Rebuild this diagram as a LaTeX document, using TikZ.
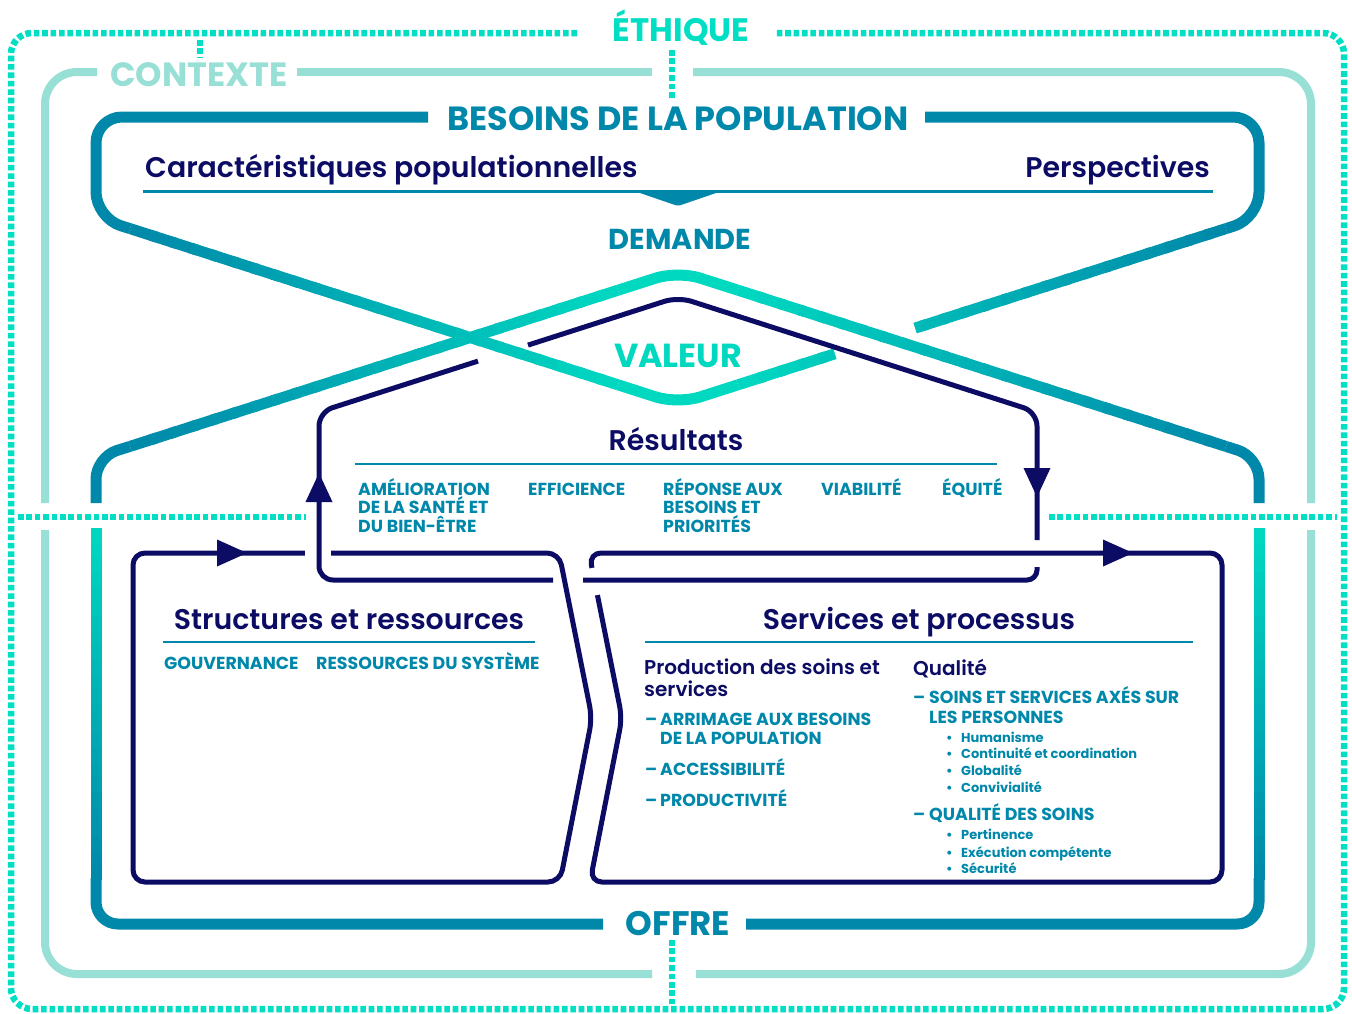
\documentclass[tikz,border=0pt]{standalone}
\usepackage{fontspec}
\setmainfont{Poppins}
\newfontfamily\psemi{Poppins SemiBold}
\newfontfamily\pmed{Poppins Medium}
\usetikzlibrary{calc}
\definecolor{navy}{RGB}{12,12,100}
\definecolor{pblue}{RGB}{0,136,170}
\definecolor{turq}{RGB}{0,216,192}
\definecolor{ethq}{RGB}{0,222,196}
\definecolor{ctx}{RGB}{152,223,214}
\newcommand\gradseg[6]{%
  \foreach \k in {0,...,23}{%
    \pgfmathsetmacro\ua{\k/24}%
    \pgfmathsetmacro\ub{min((\k+1.3)/24,1)}%
    \pgfmathsetmacro\pc{100-(\k+0.5)*100/24}%
    \draw[line width=11pt, color=#5!\pc!#6] ({#1+(#3-#1)*\ua},{#2+(#4-#2)*\ua}) -- ({#1+(#3-#1)*\ub},{#2+(#4-#2)*\ub});
  }}
\begin{document}
\begin{tikzpicture}[x=1pt,y=-1pt,line cap=butt,
  dotl/.style={ethq, line width=6.5pt, dash pattern=on 5.6pt off 2.8pt},
  ctxl/.style={ctx, line width=8pt},
  bll/.style={pblue, line width=11pt},
  nvl/.style={navy, line width=5pt},
  gap/.style={white, line width=8pt},
  tx/.style={inner sep=0pt, anchor=base west},
  big/.style={inner sep=0pt, anchor=base, font=\normalfont\bfseries\fontsize{#1pt}{#1pt}\selectfont},
  hd/.style={inner sep=0pt, text=navy, font=\psemi\fontsize{28.4pt}{30pt}\selectfont},
  it/.style={tx, text=pblue, font=\normalfont\bfseries\fontsize{17.4pt}{18pt}\selectfont},
  sm/.style={tx, text=pblue, font=\normalfont\bfseries\fontsize{13pt}{14pt}\selectfont},
  sub/.style={tx, text=navy, font=\psemi\fontsize{20pt}{22pt}\selectfont}]
\useasboundingbox (0,0) rectangle (1352,1013);
\fill[white] (0,0) rectangle (1352,1013);

% ethique frame
\draw[dotl, rounded corners=21pt] (577,33) -- (11,33) -- (11,1009) -- (1344,1009) -- (1344,33) -- (776,33);
\draw[dotl] (200,40) -- (200,58);
\draw[dotl] (672,50) -- (672,99);
\draw[dotl] (672,940) -- (672,1004);
\draw[dotl] (18,517) -- (306,517);
\draw[dotl] (1049,517) -- (1337,517);

% contexte frame
\draw[ctxl] (297,72) -- (652,72);
\draw[ctxl, rounded corners=32pt] (693,72) -- (1311,72) -- (1311,503);
\draw[ctxl, rounded corners=32pt] (1311,530) -- (1311,974) -- (696,974);
\draw[ctxl, rounded corners=32pt] (652,974) -- (45,974) -- (45,530);
\draw[ctxl, rounded corners=32pt] (45,503) -- (45,72) -- (97,72);

% besoins frame and V
\draw[bll, rounded corners=26pt] (428,117) -- (96,117) -- (96,218) -- (130,228.6);
\gradseg{130}{228.6}{618}{384.8}{pblue}{turq}
\draw[bll, turq, rounded corners=23pt] (618,384.8) -- (678,404) -- (738,384.8);
\gradseg{738}{384.8}{1226}{228.6}{turq}{pblue}
\draw[bll, rounded corners=26pt] (1226,228.6) -- (1259,218) -- (1259,117) -- (925,117);
\draw[white, line width=13pt] (835,353.8) -- (915,328.2);

% offre frame and Lambda
\draw[bll, rounded corners=22pt] (96,503) -- (96,457) -- (130,446.4);
\gradseg{130}{446.4}{618}{290.2}{pblue}{turq}
\draw[bll, turq, rounded corners=23pt] (618,290.2) -- (678,271) -- (738,290.2);
\gradseg{738}{290.2}{1226}{446.4}{turq}{pblue}
\draw[bll, rounded corners=22pt] (1226,446.4) -- (1259,457) -- (1259,503);
\gradseg{96}{528}{96}{880}{turq}{pblue}
\draw[bll, rounded corners=22pt] (96,878) -- (96,924) -- (603,924);
\gradseg{1259}{528}{1259}{880}{turq}{pblue}
\draw[bll, rounded corners=22pt] (1259,878) -- (1259,924) -- (746,924);

% rules
\draw[pblue, line width=3pt] (143,191) -- (1213,191);
\fill[pblue, rounded corners=2pt] (637,192) -- (719,192) -- (678,206) -- cycle;
\draw[pblue, line width=2.5pt] (355,464) -- (997,464);
\draw[pblue, line width=2pt] (163,642) -- (535,642);
\draw[pblue, line width=2pt] (645,642) -- (1193,642);

% boxes
\draw[nvl, rounded corners=12pt] (300,553) -- (559,553) -- (592,718) -- (560,882) -- (133,882) -- (133,553) -- cycle;
\draw[nvl, rounded corners=12pt] (900,553) -- (1222,553) -- (1222,882) -- (590,882) -- (622,718) -- (589,553) -- cycle;
\draw[gap] (305,553) -- (331,553);
\draw[gap] (592,568) -- (597.4,595);

% navy loop
\draw[nvl, rounded corners=14pt] (553,580) -- (319,580) -- (319,412) -- (478,361.1);
\draw[nvl, rounded corners=14pt] (528,345.1) -- (678,297) -- (1037,412) -- (1037,540);
\draw[nvl, rounded corners=10pt] (1037,567) -- (1037,580) -- (583,580);
\fill[navy] (319,473) -- (305.5,502) -- (332.5,502) -- cycle;
\fill[navy] (1037,497) -- (1023.5,468) -- (1050.5,468) -- cycle;
\fill[navy] (247,553) -- (217,539.5) -- (217,566.5) -- cycle;
\fill[navy] (1133,553) -- (1103,539.5) -- (1103,566.5) -- cycle;

% texts
\node[big=32.5, text=ethq] (eth) at (681,41) {ÉTHIQUE};
\node[big=33.6, text=ctx] (ctxt) at (199,86) {CONTEXTE};
\node[big=33.5, text=pblue] (bes) at (678,130) {BESOINS DE LA POPULATION};
\node[hd, anchor=base west] (car) at (145,177) {Caractéristiques populationnelles};
\node[hd, anchor=base east] (per) at (1210,177) {Perspectives};
\node[big=28.8, text=pblue] (dem) at (680,249) {DEMANDE};
\node[big=33.3, text=turq] (val) at (678,367) {VALEUR};
\node[hd, anchor=base] (res) at (676,450) {Résultats};
\node[it] (i1a) at (358,495) {AMÉLIORATION};
\node[it] (i1b) at (358,513.5) {DE LA SANTÉ ET};
\node[it] (i1c) at (358,532) {DU BIEN-ÊTRE};
\node[it] (i2) at (528,495) {EFFICIENCE};
\node[it] (i3a) at (663,495) {RÉPONSE AUX};
\node[it] (i3b) at (663,513.5) {BESOINS ET};
\node[it] (i3c) at (663,532) {PRIORITÉS};
\node[it] (i4) at (821,495) {VIABILITÉ};
\node[it] (i5) at (942,495) {ÉQUITÉ};
\node[hd, anchor=base] (str) at (349,629) {Structures et ressources};
\node[it] (gov) at (164,669) {GOUVERNANCE};
\node[it] (rds) at (316,669) {RESSOURCES DU SYSTÈME};
\node[hd, anchor=base] (ser) at (919,629) {Services et processus};
\node[sub] (pr1) at (644,674) {Production des soins et};
\node[sub] (pr2) at (644,696) {services};
\node[it] (da1) at (645,725) {–};
\node[it] (a1a) at (660,725) {ARRIMAGE AUX BESOINS};
\node[it] (a1b) at (660,744) {DE LA POPULATION};
\node[it] (da2) at (645,775) {–};
\node[it] (a2) at (660,775) {ACCESSIBILITÉ};
\node[it] (da3) at (645,806) {–};
\node[it] (a3) at (660,806) {PRODUCTIVITÉ};
\node[sub] (qua) at (913,675) {Qualité};
\node[it] (db1) at (913,703) {–};
\node[it] (b1a) at (929,703) {SOINS ET SERVICES AXÉS SUR};
\node[it] (b1b) at (929,723) {LES PERSONNES};
\node[sm] (u1) at (946,742) {•};
\node[sm] (v1) at (961,742) {Humanisme};
\node[sm] (u2) at (946,758) {•};
\node[sm] (v2) at (961,758) {Continuité et coordination};
\node[sm] (u3) at (946,775) {•};
\node[sm] (v3) at (961,775) {Globalité};
\node[sm] (u4) at (946,792) {•};
\node[sm] (v4) at (961,792) {Convivialité};
\node[it] (db2) at (913,820) {–};
\node[it] (b2) at (929,820) {QUALITÉ DES SOINS};
\node[sm] (u5) at (946,839) {•};
\node[sm] (v5) at (961,839) {Pertinence};
\node[sm] (u6) at (946,857) {•};
\node[sm] (v6) at (961,857) {Exécution compétente};
\node[sm] (u7) at (946,873) {•};
\node[sm] (v7) at (961,873) {Sécurité};
\node[big=34, text=pblue] (off) at (678,935) {OFFRE};
\end{tikzpicture}
\end{document}
